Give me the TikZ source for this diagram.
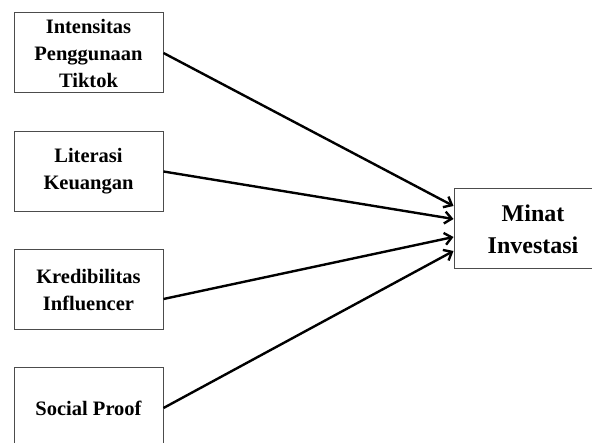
\documentclass[tikz,border=0pt]{standalone}
\usepackage{fontspec}
\setmainfont{Liberation Serif}
\usetikzlibrary{arrows.meta,calc}
\begin{document}
\begin{tikzpicture}[x=1pt,y=-1pt,
  varbox/.style={draw=black!70,line width=1pt,minimum width=149pt,minimum height=80pt,inner sep=0pt,align=center,font=\bfseries\fontsize{20.5}{27}\selectfont},
  depbox/.style={draw=black!70,line width=1pt,minimum width=158pt,minimum height=80pt,inner sep=0pt,align=center,font=\bfseries\fontsize{24}{32}\selectfont},
  link/.style={line width=2.4pt,-{Straight Barb[length=7pt,width=12pt,line width=2.4pt]}}]
\useasboundingbox (0,0) rectangle (592,443);
\fill[white] (0,0) rectangle (592,443);
\node[varbox] (b1) at (88.5,53) {Intensitas\\Penggunaan\\Tiktok};
\node[varbox] (b2) at (88.5,171.5) {Literasi\\Keuangan};
\node[varbox] (b3) at (88.5,290) {Kredibilitas\\Influencer};
\node[varbox] (b4) at (88.5,408) {Social Proof};
\node[depbox] (d) at (533,229) {Minat\\Investasi};
\draw[link] (b1.east) -- ($(d.west)+(0,-23)$);
\draw[link] (b2.east) -- ($(d.west)+(0,-10)$);
\draw[link] ($(b3.east)+(0,9)$) -- ($(d.west)+(0,8)$);
\draw[link] (b4.east) -- ($(d.west)+(0,22)$);
\end{tikzpicture}
\end{document}
